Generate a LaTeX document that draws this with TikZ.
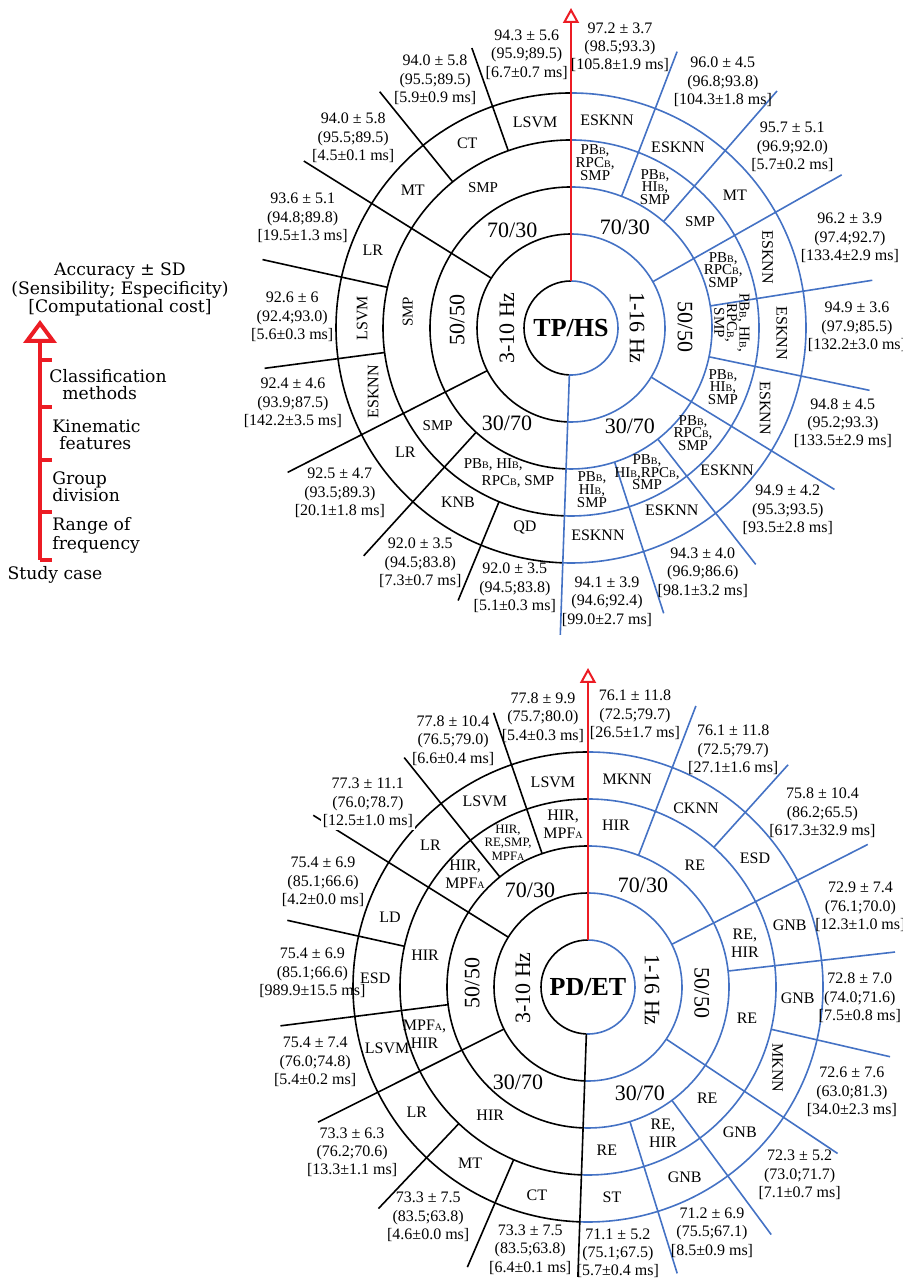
\documentclass[tikz,border=0pt]{standalone}
\usepackage{fontspec}
\setmainfont{Liberation Serif}
\newfontfamily\legendfont{DejaVu Serif}
\usepackage{xcolor}
\usetikzlibrary{arrows.meta}

\definecolor{ringblue}{RGB}{68,114,196}
\definecolor{axisred}{RGB}{236,28,36}

% small letter on the base line (PB_B, MPF_A)
\newcommand{\lw}[1]{{\fontsize{5}{5}\selectfont #1}}
% accuracy / (sensibility;especificity) / [cost]
\newcommand{\acc}[3]{#1\\(#2)\\{}[#3 ms]}

\tikzset{
  ringline/.style={line width=0.8pt},
  scorelbl/.style={font=\fontsize{8}{9.2}\selectfont, align=center, inner sep=0pt},
  methodlbl/.style={font=\fontsize{8}{9}\selectfont, align=center, inner sep=0pt},
  featlbl/.style={font=\fontsize{7.5}{6.3}\selectfont, align=center, inner sep=0pt},
  splitlbl/.style={font=\fontsize{11}{12}\selectfont, inner sep=0pt},
  caselbl/.style={font=\fontsize{13}{14}\selectfont\bfseries, circle, minimum size=47pt, inner sep=0pt},
  axisline/.style={axisred, line width=1pt, -{Triangle[open, length=7.5pt, width=8pt]}},
  legendarrow/.style={axisred, line width=2pt, -{Triangle[open, length=11.5pt, width=16.5pt]}},
  legendtick/.style={axisred, line width=2pt},
  legendlbl/.style={font=\legendfont\fontsize{8.6}{8.4}\selectfont, inner sep=0pt},
}

\begin{document}
\begin{tikzpicture}[x=0.5pt, y=0.5pt]
    \useasboundingbox (0,0) rectangle (903,1278);

    % --- LEGEND: READING ORDER OF THE RINGS ---
    \draw[legendarrow] (40,718) -- (40,958);
    \foreach \y in {918,871,818,766,718}
        \draw[legendtick] (40,\y) -- (52,\y);
    \node[legendlbl, align=center] (key) at (120,988.5) {Accuracy ± SD\\(Sensibility; Especificity)\\{}[Computational cost]};
    \node[legendlbl, align=left, anchor=west] (lvl4) at (49,893.5) {Classification\\\hspace*{0.75em}methods};
    \node[legendlbl, align=left, anchor=west] (lvl3) at (52,843.5) {Kinematic\\\hspace*{0.4em}features};
    \node[legendlbl, align=left, anchor=west] (lvl2) at (52,791) {Group\\division};
    \node[legendlbl, align=left, anchor=west] (lvl1) at (52,743) {Range of\\frequency};
    \node[legendlbl] (lvl0) at (55,703) {Study case};

    % --- TOP CHART: TP/HS ---
    \begin{scope}[shift={(571,950)}]
        % rings: left half black, right half blue
        \foreach \rad in {47,94,141,188,235} {
            \draw[ringline] (90:\rad) arc[start angle=90, end angle=268, radius=\rad];
            \draw[ringline, ringblue] (90:\rad) arc[start angle=90, end angle=-92, radius=\rad];
        }
        % radial dividers
        \foreach \ang/\ri/\ro in {109.5/188/297, 129/188/304, 148/94/315, 167.5/188/316,
                                  187.5/188/309, 207/94/318, 227.7/141/308, 247.5/188/295}
            \draw[ringline] (\ang:\ri) -- (\ang:\ro);
        \foreach \ang/\ri/\ro in {69/141/296, 49/141/314, 29.5/94/311, 9/141/305,
                                  -11.8/141/305, -31.5/94/309, -52/141/300, -72/141/300, 268/47/307}
            \draw[ringline, ringblue] (\ang:\ri) -- (\ang:\ro);

        % centre and frequency / group rings
        \node[caselbl] (tphs) at (0,0) {TP/HS};
        \node[splitlbl, rotate=90]  (tpHz1) at (180:64) {3-10 Hz};
        \node[splitlbl, rotate=-90] (tpHz2) at (0:66) {1-16 Hz};
        \node[splitlbl] (tpG1) at (121:114) {70/30};
        \node[splitlbl, rotate=90] (tpG2) at (176:114) {50/50};
        \node[splitlbl] (tpG3) at (236:114.5) {30/70};
        \node[splitlbl] (tpG4) at (61.9:114.5) {70/30};
        \node[splitlbl, rotate=-90] (tpG5) at (0.5:114) {50/50};
        \node[splitlbl] (tpG6) at (-59.2:115) {30/70};

        % kinematic features
        \foreach \ang/\rad/\txt/\rot [count=\i] in {
            81.7/167/{PB\lw{B},\\RPC\lw{B},\\SMP}/0, 59.2/164/{PB\lw{B},\\HI\lw{B},\\SMP}/0,
            39.4/167/{SMP}/0, 20.9/163/{PB\lw{B},\\RPC\lw{B},\\SMP}/0,
            1.8/161/{PB\lw{B}, HI\lw{B},\\RPC\lw{B},\\SMP}/-90, -21.2/163/{PB\lw{B},\\HI\lw{B},\\SMP}/0,
            -40.7/161/{PB\lw{B},\\RPC\lw{B},\\SMP}/0, -62.2/163/{PB\lw{B},\\HI\lw{B},RPC\lw{B},\\SMP}/0,
            -82.6/163/{PB\lw{B},\\HI\lw{B},\\SMP}/0}
            \node[featlbl, rotate=\rot] (tpFR\i) at (\ang:\rad) {\txt};
        \foreach \ang/\rad/\rot [count=\i] in {122/166/0, 174.4/164/90, 216.1/165/0}
            \node[methodlbl, font=\fontsize{7.5}{8}\selectfont, rotate=\rot] (tpFL\i) at (\ang:\rad) {SMP};
        \node[methodlbl, font=\fontsize{7.5}{8.3}\selectfont, align=left] (tpFL4) at (246.9:158)
            {PB\lw{B}, HI\lw{B},\\\hspace*{1.2em}RPC\lw{B}, SMP};

        % classification methods
        \foreach \ang/\rad/\txt/\rot [count=\i] in {
            80.2/211/ESKNN/0, 59.4/210/ESKNN/0, 39/211/MT/0, 19.8/209/ESKNN/-90, -1.4/211/ESKNN/-90,
            -22.4/210/ESKNN/-90, -42.3/211/ESKNN/0, -61/208/ESKNN/0, -82.6/209/ESKNN/0,
            99.9/209/LSVM/0, 119.3/212/CT/0, 138.9/210/MT/0, 158.5/213/LR/0, 177.3/209/LSVM/90,
            197.9/208/ESKNN/90, 216.8/207/LR/0, 237.1/208/KNB/0, 257/205/QD/0}
            \node[methodlbl, rotate=\rot] (tpM\i) at (\ang:\rad) {\txt};

        % accuracy, sensibility and cost
        \foreach \ang/\rad/\acu/\sen/\cst [count=\i] in {
            80.1/285/{97.2 ± 3.7}/{98.5;93.3}/{105.8±1.9}, 58.3/289/{96.0 ± 4.5}/{96.8;93.8}/{104.3±1.8},
            39.3/286/{95.7 ± 5.1}/{96.9;92.0}/{5.7±0.2}, 17.9/293/{96.2 ± 3.9}/{97.4;92.7}/{133.4±2.9},
            0.2/286/{94.9 ± 3.6}/{97.9;85.5}/{132.2±3.0}, -19.3/288/{94.8 ± 4.5}/{95.2;93.3}/{133.5±2.9},
            -40/283/{94.9 ± 4.2}/{95.3;93.5}/{93.5±2.8}, -61.7/278/{94.3 ± 4.0}/{96.9;86.6}/{98.1±3.2},
            -82.5/276/{94.1 ± 3.9}/{94.6;92.4}/{99.0±2.7},
            99.2/277/{94.3 ± 5.6}/{95.9;89.5}/{6.7±0.7}, 118.7/283/{94.0 ± 5.8}/{95.5;89.5}/{5.9±0.9},
            138.9/289/{94.0 ± 5.8}/{95.5;89.5}/{4.5±0.1}, 157.7/290/{93.6 ± 5.1}/{94.8;89.8}/{19.5±1.3},
            177.7/279/{92.6 ± 6}/{92.4;93.0}/{5.6±0.3}, 195.1/288/{92.4 ± 4.6}/{93.9;87.5}/{142.2±3.5},
            215.5/284/{92.5 ± 4.7}/{93.5;89.3}/{20.1±1.8}, 237.3/279/{92.0 ± 3.5}/{94.5;83.8}/{7.3±0.7},
            257.8/266/{92.0 ± 3.5}/{94.5;83.8}/{5.1±0.3}}
            \node[scorelbl] (tpS\i) at (\ang:\rad) {\acc{\acu}{\sen}{\cst}};

        % study-case axis
        \draw[axisline] (tphs.north) -- (0,320);
    \end{scope}

    % --- BOTTOM CHART: PD/ET ---
    \begin{scope}[shift={(588,291)}]
        % rings: left half black, right half blue
        \foreach \rad in {47,94,141,188,235} {
            \draw[ringline] (90:\rad) arc[start angle=90, end angle=268, radius=\rad];
            \draw[ringline, ringblue] (90:\rad) arc[start angle=90, end angle=-92, radius=\rad];
        }
        % radial dividers
        \foreach \ang/\ri/\ro in {109/141/290, 128.7/141/294, 148/94/324, 167.5/188/308,
                                  187.2/141/310, 206.6/94/302, 226.6/188/305, 246.7/188/305, 268/47/290}
            \draw[ringline] (\ang:\ri) -- (\ang:\ro);
        \foreach \ang/\ri/\ro in {69/141/301, 48/188/299, 27/94/314, 6.5/141/309,
                                  -13/188/310, -33.7/94/300, -53.5/141/308, -72.7/141/300}
            \draw[ringline, ringblue] (\ang:\ri) -- (\ang:\ro);

        % centre and frequency / group rings
        \node[caselbl] (pdet) at (0,0) {PD/ET};
        \node[splitlbl, rotate=90]  (pdHz1) at (180.9:65) {3-10 Hz};
        \node[splitlbl, rotate=-90] (pdHz2) at (-2.7:64) {1-16 Hz};
        \node[splitlbl] (pdG1) at (120.9:113) {70/30};
        \node[splitlbl, rotate=90] (pdG2) at (178:116) {50/50};
        \node[splitlbl] (pdG3) at (233.6:118) {30/70};
        \node[splitlbl] (pdG4) at (61.7:116) {70/30};
        \node[splitlbl, rotate=-90] (pdG5) at (-3:114) {50/50};
        \node[splitlbl] (pdG6) at (-63.9:118) {30/70};

        % kinematic features
        \foreach \ang/\rad/\txt [count=\i] in {
            80.2/164/{HIR}, 48.7/162/{RE}, 15.7/163/{RE,\\HIR}, -11/162/{RE}, -43/163/{RE},
            -62.8/164/{RE,\\HIR}, -83.4/164/{RE},
            98.7/165/{HIR,\\MPF\lw{A}}, 137.4/167/{HIR,\\MPF\lw{A}}, 168.9/166/{HIR},
            196/170/{MPF\lw{A},\\HIR}, 232.6/161/{HIR}}
            \node[methodlbl] (pdF\i) at (\ang:\rad) {\txt};
        \node[methodlbl, font=\fontsize{6.4}{6.8}\selectfont] (pdF13) at (119:165) {HIR,\\RE,SMP,\\MPF\lw{A}};

        % classification methods
        \foreach \ang/\rad/\txt/\rot [count=\i] in {
            79.3/211/MKNN/0, 58.9/209/CKNN/0, 37.7/211/ESD/0, 17.1/211/GNB/0, -3/210/GNB/0,
            -23.1/206/MKNN/-90, -43.7/210/GNB/0, -63/213/GNB/0, -83.5/212/ST/0,
            99.7/208/LSVM/0, 119.1/212/LSVM/0, 138/212/LR/0, 160.5/210/LD/0, 177.6/213/ESD/0,
            196.9/210/LSVM/0, 216.2/212/LR/0, 236.2/212/MT/0, 256.2/214/CT/0}
            \node[methodlbl, rotate=\rot] (pdM\i) at (\ang:\rad) {\txt};

        % accuracy, sensibility and cost
        \foreach \ang/\rad/\acu/\sen/\cst [count=\i] in {
            80.2/276/{76.1 ± 11.8}/{72.5;79.7}/{26.5±1.7}, 58.5/278/{76.1 ± 11.8}/{72.5;79.7}/{27.1±1.6},
            36.6/292/{75.8 ± 10.4}/{86.2;65.5}/{617.3±32.9}, 16.4/284/{72.9 ± 7.4}/{76.1;70.0}/{12.3±1.0},
            -2.3/272/{72.8 ± 7.0}/{74.0;71.6}/{7.5±0.8}, -21.7/284/{72.6 ± 7.6}/{63.0;81.3}/{34.0±2.3},
            -41.6/283/{72.3 ± 5.2}/{73.0;71.7}/{7.1±0.7}, -63.2/275/{71.2 ± 6.9}/{75.5;67.1}/{8.5±0.9},
            -83.6/268/{71.1 ± 5.2}/{75.1;67.5}/{5.7±0.4},
            99.5/273/{77.8 ± 9.9}/{75.7;80.0}/{5.4±0.3}, 118.7/281/{77.8 ± 10.4}/{76.5;79.0}/{6.6±0.4},
            158.4/285/{75.4 ± 6.9}/{85.1;66.6}/{4.2±0.0}, 177.1/276/{75.4 ± 6.9}/{85.1;66.6}/{989.9±15.5},
            195.4/283/{75.4 ± 7.4}/{76.0;74.8}/{5.4±0.2}, 215/288/{73.3 ± 6.3}/{76.2;70.6}/{13.3±1.1},
            235.2/280/{73.3 ± 7.5}/{83.5;63.8}/{4.6±0.0}, 257.6/269/{73.3 ± 7.5}/{83.5;63.8}/{6.4±0.1}}
            \node[scorelbl] (pdS\i) at (\ang:\rad) {\acc{\acu}{\sen}{\cst}};
        % this one covers the end of its divider
        \node[scorelbl, fill=white, inner sep=1pt] (pdS18) at (140.1:287) {\acc{77.3 ± 11.1}{76.0;78.7}{12.5±1.0}};

        % study-case axis
        \draw[axisline] (pdet.north) -- (0,319);
    \end{scope}
\end{tikzpicture}
\end{document}
